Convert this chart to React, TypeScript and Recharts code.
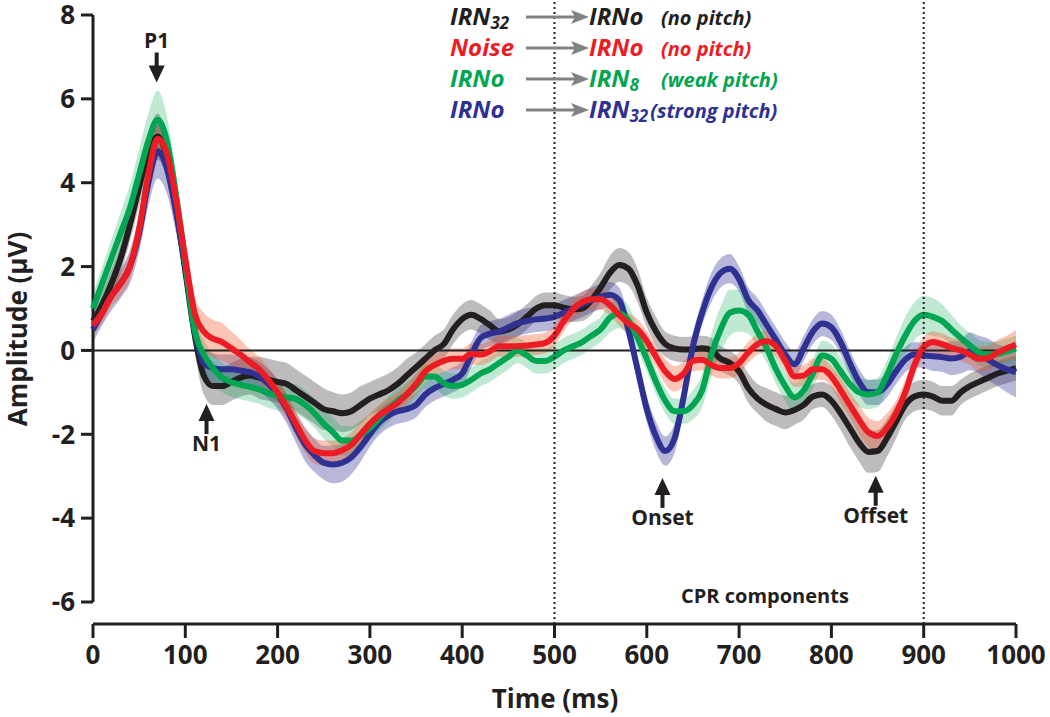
import React from 'react';
import { ComposedChart, Area, Line, XAxis, YAxis, ReferenceLine, ReferenceDot } from 'recharts';

// time grid, 10 ms steps
const times = Array.from({ length: 101 }, (_, i) => i * 10);

// IRN32 -> IRNo (no pitch)
const blackMean = [
  0.7, 1.1, 1.6, 2.2, 3.0, 3.9, 4.7, 5.1, 4.6, 3.4,
  1.9, 0.4, -0.6, -0.85, -0.85, -0.75, -0.65, -0.6, -0.65, -0.7,
  -0.75, -0.8, -0.95, -1.1, -1.25, -1.4, -1.45, -1.5, -1.45, -1.3,
  -1.15, -1.05, -0.95, -0.8, -0.6, -0.4, -0.2, 0.0, 0.15, 0.5,
  0.75, 0.85, 0.75, 0.6, 0.45, 0.5, 0.62, 0.8, 1.0, 1.08,
  1.08, 1.02, 0.98, 1.0, 1.2, 1.5, 1.85, 2.04, 1.95, 1.55,
  0.9, 0.45, 0.15, 0.05, 0.02, 0.03, 0.05, 0.0, -0.2, -0.3,
  -0.5, -0.9, -1.15, -1.3, -1.4, -1.48, -1.42, -1.3, -1.1, -1.05,
  -1.2, -1.5, -1.85, -2.2, -2.42, -2.4, -2.1, -1.7, -1.3, -1.1,
  -1.05, -1.1, -1.2, -1.2, -1.0, -0.85, -0.75, -0.65, -0.55, -0.48,
  -0.42,
];
const blackBand = [
  0.3, 0.3, 0.35, 0.35, 0.4, 0.45, 0.5, 0.55, 0.5, 0.45,
  0.4, 0.4, 0.45, 0.45, 0.45, 0.45, 0.45, 0.45, 0.5, 0.5,
  0.5, 0.5, 0.5, 0.5, 0.5, 0.5, 0.45, 0.45, 0.45, 0.45,
  0.4, 0.4, 0.4, 0.4, 0.4, 0.35, 0.35, 0.35, 0.35, 0.35,
  0.35, 0.35, 0.35, 0.35, 0.3, 0.3, 0.3, 0.3, 0.3, 0.3,
  0.3, 0.3, 0.3, 0.3, 0.35, 0.35, 0.4, 0.4, 0.4, 0.4,
  0.35, 0.35, 0.3, 0.3, 0.3, 0.3, 0.3, 0.3, 0.3, 0.3,
  0.3, 0.35, 0.35, 0.4, 0.4, 0.4, 0.35, 0.35, 0.3, 0.3,
  0.35, 0.4, 0.45, 0.45, 0.5, 0.5, 0.45, 0.4, 0.35, 0.35,
  0.35, 0.35, 0.35, 0.35, 0.3, 0.3, 0.3, 0.3, 0.3, 0.3,
  0.3,
];

// Noise -> IRNo (no pitch)
const redMean = [
  0.6, 0.9, 1.3, 1.6, 2.0, 2.9, 4.2, 5.05, 4.7, 3.6,
  2.2, 0.9, 0.45, 0.28, 0.2, 0.05, -0.1, -0.28, -0.45, -0.7,
  -1.0, -1.35, -1.75, -2.15, -2.4, -2.45, -2.45, -2.38, -2.25, -2.0,
  -1.75, -1.55, -1.4, -1.25, -1.05, -0.8, -0.5, -0.35, -0.25, -0.2,
  -0.2, -0.08, -0.1, -0.02, 0.1, 0.1, 0.1, 0.12, 0.14, 0.18,
  0.35, 0.7, 0.98, 1.15, 1.22, 1.22, 1.08, 0.85, 0.65, 0.5,
  0.22, -0.15, -0.5, -0.68, -0.55, -0.25, -0.22, -0.35, -0.42, -0.42,
  -0.3, -0.05, 0.15, 0.22, 0.1, -0.25, -0.62, -0.6, -0.45, -0.45,
  -0.62, -0.95, -1.3, -1.65, -1.95, -2.04, -1.85, -1.5, -1.0, -0.35,
  0.08, 0.2, 0.15, 0.06, 0.0, -0.1, -0.2, -0.18, -0.05, 0.05,
  0.14,
];
const redBand = [
  0.25, 0.25, 0.25, 0.3, 0.3, 0.3, 0.3, 0.3, 0.3, 0.3,
  0.35, 0.4, 0.45, 0.45, 0.45, 0.4, 0.35, 0.3, 0.3, 0.3,
  0.3, 0.3, 0.3, 0.3, 0.3, 0.3, 0.3, 0.3, 0.3, 0.3,
  0.25, 0.25, 0.25, 0.25, 0.25, 0.25, 0.25, 0.25, 0.25, 0.25,
  0.25, 0.25, 0.25, 0.25, 0.25, 0.25, 0.25, 0.25, 0.25, 0.25,
  0.25, 0.25, 0.25, 0.25, 0.25, 0.25, 0.25, 0.25, 0.25, 0.25,
  0.25, 0.25, 0.3, 0.3, 0.3, 0.25, 0.25, 0.25, 0.25, 0.25,
  0.25, 0.25, 0.25, 0.25, 0.25, 0.25, 0.25, 0.25, 0.25, 0.25,
  0.25, 0.3, 0.3, 0.35, 0.35, 0.35, 0.35, 0.3, 0.3, 0.25,
  0.25, 0.25, 0.25, 0.25, 0.25, 0.25, 0.3, 0.3, 0.3, 0.3,
  0.35,
];

// IRNo -> IRN8 (weak pitch)
const greenMean = [
  1.0, 1.6, 2.2, 2.8, 3.4, 4.2, 5.0, 5.5, 5.0, 3.7,
  2.1, 0.5, -0.1, -0.42, -0.65, -0.76, -0.82, -0.87, -0.93, -1.02,
  -1.08, -1.12, -1.16, -1.3, -1.5, -1.75, -1.95, -2.15, -2.15, -2.02,
  -1.85, -1.62, -1.4, -1.2, -1.05, -0.85, -0.62, -0.62, -0.78, -0.85,
  -0.82, -0.7, -0.55, -0.45, -0.3, -0.15, 0.0, -0.12, -0.25, -0.25,
  -0.15, 0.0, 0.1, 0.2, 0.35, 0.5, 0.78, 0.88, 0.72, 0.3,
  -0.2, -0.75, -1.2, -1.45, -1.45, -1.3, -0.95, -0.1, 0.5, 0.9,
  0.95, 0.85, 0.45, 0.05, -0.45, -0.85, -1.12, -0.95, -0.55, -0.12,
  -0.2, -0.5, -0.8, -1.0, -1.05, -1.0, -0.6, -0.1, 0.35, 0.7,
  0.85, 0.8, 0.7, 0.5, 0.3, 0.12, -0.05, -0.1, -0.08, -0.02,
  0.05,
];
const greenBand = [
  0.35, 0.4, 0.45, 0.5, 0.55, 0.6, 0.65, 0.7, 0.6, 0.5,
  0.4, 0.35, 0.35, 0.35, 0.35, 0.35, 0.35, 0.35, 0.35, 0.35,
  0.35, 0.35, 0.35, 0.35, 0.35, 0.35, 0.35, 0.35, 0.35, 0.35,
  0.3, 0.3, 0.3, 0.3, 0.3, 0.3, 0.3, 0.3, 0.3, 0.3,
  0.3, 0.3, 0.3, 0.3, 0.3, 0.3, 0.3, 0.3, 0.3, 0.3,
  0.3, 0.3, 0.3, 0.3, 0.3, 0.3, 0.35, 0.35, 0.35, 0.3,
  0.3, 0.3, 0.3, 0.3, 0.3, 0.35, 0.4, 0.5, 0.55, 0.55,
  0.5, 0.45, 0.4, 0.35, 0.35, 0.35, 0.35, 0.35, 0.35, 0.35,
  0.35, 0.35, 0.35, 0.35, 0.35, 0.35, 0.35, 0.4, 0.45, 0.45,
  0.45, 0.45, 0.4, 0.35, 0.3, 0.3, 0.3, 0.3, 0.3, 0.3,
  0.3,
];

// IRNo -> IRN32 (strong pitch)
const blueMean = [
  0.5, 0.9, 1.3, 1.6, 2.0, 2.8, 4.0, 4.75, 4.35, 3.3,
  2.0, 0.5, -0.3, -0.42, -0.45, -0.45, -0.48, -0.52, -0.62, -0.8,
  -1.05, -1.4, -1.85, -2.25, -2.5, -2.68, -2.72, -2.68, -2.55, -2.3,
  -2.0, -1.72, -1.55, -1.45, -1.4, -1.3, -1.05, -0.9, -0.8, -0.7,
  -0.55, -0.1, 0.3, 0.4, 0.45, 0.55, 0.65, 0.7, 0.74, 0.76,
  0.8, 0.9, 1.0, 1.1, 1.2, 1.28, 1.33, 1.2, 0.5, -0.45,
  -1.4, -2.05, -2.4, -2.1, -1.1, 0.1, 0.9, 1.5, 1.85, 1.95,
  1.7, 1.2, 0.95, 0.6, 0.25, -0.1, -0.33, 0.05, 0.45, 0.64,
  0.55, 0.2, -0.3, -0.75, -1.0, -1.0, -0.82, -0.5, -0.22, -0.1,
  -0.12, -0.14, -0.16, -0.19, -0.15, -0.02, -0.1, -0.22, -0.35, -0.45,
  -0.52,
];
const blueBand = [
  0.3, 0.3, 0.35, 0.35, 0.4, 0.45, 0.55, 0.65, 0.6, 0.5,
  0.4, 0.35, 0.35, 0.35, 0.35, 0.35, 0.35, 0.35, 0.35, 0.35,
  0.35, 0.35, 0.35, 0.4, 0.4, 0.4, 0.45, 0.45, 0.4, 0.35,
  0.3, 0.3, 0.3, 0.3, 0.3, 0.3, 0.3, 0.3, 0.3, 0.3,
  0.3, 0.3, 0.3, 0.3, 0.3, 0.3, 0.3, 0.3, 0.3, 0.3,
  0.3, 0.3, 0.3, 0.3, 0.3, 0.3, 0.3, 0.3, 0.3, 0.3,
  0.3, 0.35, 0.35, 0.35, 0.3, 0.3, 0.3, 0.35, 0.35, 0.35,
  0.3, 0.3, 0.3, 0.3, 0.3, 0.3, 0.3, 0.3, 0.3, 0.3,
  0.3, 0.3, 0.3, 0.3, 0.3, 0.3, 0.3, 0.3, 0.3, 0.3,
  0.3, 0.35, 0.35, 0.4, 0.4, 0.45, 0.45, 0.5, 0.5, 0.55,
  0.6,
];

const xTicks = [0, 100, 200, 300, 400, 500, 600, 700, 800, 900, 1000];
const yTicks = [-6, -4, -2, 0, 2, 4, 6, 8];

const INK = '#231f20';
const BLACK = '#231f20';
const RED = '#ed1c24';
const GREEN = '#00a651';
const BLUE = '#2e3192';
const FONT = '"Open Sans", "DejaVu Sans", sans-serif';

const data = times.map((t, i) => ({
  t,
  black: blackMean[i],
  blackRange: [blackMean[i] - blackBand[i], blackMean[i] + blackBand[i]],
  red: redMean[i],
  redRange: [redMean[i] - redBand[i], redMean[i] + redBand[i]],
  green: greenMean[i],
  greenRange: [greenMean[i] - greenBand[i], greenMean[i] + greenBand[i]],
  blue: blueMean[i],
  blueRange: [blueMean[i] - blueBand[i], blueMean[i] + blueBand[i]],
}));

const legendRows = [
  { from: 'IRN', fromSub: '32', to: 'IRNo', toSub: '', note: '(no pitch)', color: BLACK },
  { from: 'Noise', fromSub: '', to: 'IRNo', toSub: '', note: '(no pitch)', color: RED },
  { from: 'IRNo', fromSub: '', to: 'IRN', toSub: '8', note: '(weak pitch)', color: GREEN },
  { from: 'IRNo', fromSub: '', to: 'IRN', toSub: '32', note: '(strong pitch)', color: BLUE },
];

// arrow + label pinned to a data point (tip of the arrow)
const ArrowNote = ({ cx, cy, dir, text }: any) => {
  if (cx == null || cy == null) return null;
  const s = dir === 'down' ? -1 : 1;
  const shaftEnd = cy + s * 30;
  const headBase = cy + s * 15;
  return (
    <g>
      <line x1={cx} y1={headBase} x2={cx} y2={shaftEnd} stroke={INK} strokeWidth={4} />
      <polygon points={`${cx},${cy} ${cx - 8},${headBase + s * 2} ${cx + 8},${headBase + s * 2}`} fill={INK} />
      <text
        x={cx}
        y={dir === 'down' ? cy - 35 : cy + 47}
        textAnchor="middle"
        fontFamily={FONT}
        fontWeight={700}
        fontSize={21}
        fill={INK}
      >
        {text}
      </text>
    </g>
  );
};

const PlainNote = ({ cx, cy, text }: any) => (
  <text x={cx} y={cy} textAnchor="middle" dominantBaseline="central" fontFamily={FONT} fontWeight={700} fontSize={20} fill={INK}>
    {text}
  </text>
);

const tickStyle = { fontFamily: FONT, fontWeight: 700, fontSize: 26, fill: INK };

export default function App() {
  return (
    <div style={{ position: 'absolute', left: 0, top: 0, width: 1050, height: 717, background: '#fff' }}>
      <ComposedChart width={1050} height={717} data={data} margin={{ top: 0, right: 34, bottom: 0, left: 0 }}>
        <XAxis
          dataKey="t"
          type="number"
          domain={[0, 1000]}
          ticks={xTicks}
          height={93}
          tickSize={14}
          tickMargin={8}
          axisLine={{ stroke: INK, strokeWidth: 3 }}
          tickLine={{ stroke: INK, strokeWidth: 3 }}
          tick={tickStyle}
        />
        <YAxis
          type="number"
          domain={[-6, 8]}
          ticks={yTicks}
          width={93}
          padding={{ top: 15, bottom: 22 }}
          tickSize={12}
          tickMargin={6}
          axisLine={false}
          tickLine={{ stroke: INK, strokeWidth: 3 }}
          tick={tickStyle}
        />
        <ReferenceLine segment={[{ x: 0, y: 8 }, { x: 0, y: -6 }]} stroke={INK} strokeWidth={3} />
        <ReferenceLine y={0} stroke={INK} strokeWidth={2} />

        <Area type="monotone" dataKey="blackRange" stroke="none" fill={BLACK} fillOpacity={0.3} isAnimationActive={false} />
        <Line type="monotone" dataKey="black" stroke={BLACK} strokeWidth={6} dot={false} isAnimationActive={false} />
        <Area type="monotone" dataKey="blueRange" stroke="none" fill={BLUE} fillOpacity={0.35} isAnimationActive={false} />
        <Line type="monotone" dataKey="blue" stroke={BLUE} strokeWidth={6} dot={false} isAnimationActive={false} />
        <Area type="monotone" dataKey="greenRange" stroke="none" fill={GREEN} fillOpacity={0.25} isAnimationActive={false} />
        <Line type="monotone" dataKey="green" stroke={GREEN} strokeWidth={6} dot={false} isAnimationActive={false} />
        <Area type="monotone" dataKey="redRange" stroke="none" fill="#f15a29" fillOpacity={0.35} isAnimationActive={false} />
        <Line type="monotone" dataKey="red" stroke={RED} strokeWidth={6} dot={false} isAnimationActive={false} />

        <ReferenceLine x={500} stroke={INK} strokeWidth={2} strokeDasharray="2 3" />
        <ReferenceLine x={900} stroke={INK} strokeWidth={2} strokeDasharray="2 3" />

        <ReferenceDot x={69} y={6.39} r={0} shape={(p: any) => <ArrowNote cx={p.cx} cy={p.cy} dir="down" text="P1" />} />
        <ReferenceDot x={123} y={-1.28} r={0} shape={(p: any) => <ArrowNote cx={p.cx} cy={p.cy} dir="up" text="N1" />} />
        <ReferenceDot x={617} y={-3.04} r={0} shape={(p: any) => <ArrowNote cx={p.cx} cy={p.cy} dir="up" text="Onset" />} />
        <ReferenceDot x={848} y={-2.99} r={0} shape={(p: any) => <ArrowNote cx={p.cx} cy={p.cy} dir="up" text="Offset" />} />
        <ReferenceDot x={728} y={-5.84} r={0} shape={(p: any) => <PlainNote cx={p.cx} cy={p.cy} text="CPR components" />} />
      </ComposedChart>

      <svg width={1050} height={717} style={{ position: 'absolute', left: 0, top: 0, pointerEvents: 'none' }}>
        <text
          transform="translate(27, 329) rotate(-90)"
          textAnchor="middle"
          fontFamily={FONT}
          fontWeight={700}
          fontSize={26}
          fill={INK}
        >
          Amplitude (µV)
        </text>
        <text x={555} y={708} textAnchor="middle" fontFamily={FONT} fontWeight={700} fontSize={26} fill={INK}>
          Time (ms)
        </text>
        {legendRows.map((r, i) => {
          const base = 25 + i * 31;
          return (
            <g key={i} fontFamily={FONT} fontWeight={700} fontStyle="italic" fill={r.color}>
              <text x={450} y={base} fontSize={24}>
                {r.from}
                {r.fromSub && <tspan fontSize={17} dy={4}>{r.fromSub}</tspan>}
              </text>
              <line x1={526} y1={base - 8} x2={575} y2={base - 8} stroke="#808285" strokeWidth={3} />
              <polygon points={`${589},${base - 8} ${571},${base - 15} ${575},${base - 8} ${571},${base - 1}`} fill="#808285" />
              <text x={589} y={base} fontSize={24}>
                {r.to}
                {r.toSub && <tspan fontSize={17} dy={4}>{r.toSub}</tspan>}
                {r.toSub === '32' ? (
                  <tspan fontSize={20} dy={-4} dx={2}>{r.note}</tspan>
                ) : null}
              </text>
              {r.toSub !== '32' && (
                <text x={661} y={base} fontSize={20}>
                  {r.note}
                </text>
              )}
            </g>
          );
        })}
      </svg>
    </div>
  );
}
